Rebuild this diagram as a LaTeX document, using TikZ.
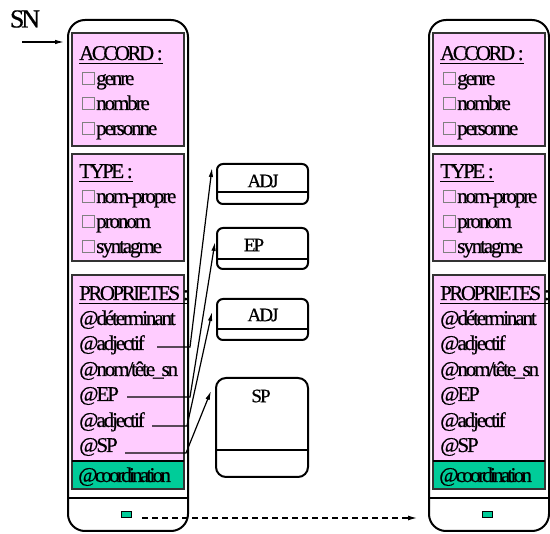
\documentclass[tikz,border=0pt]{standalone}
\usepackage{fontspec}
\setmainfont{Liberation Serif}[LetterSpace=-10,FakeBold=0.6]
\usetikzlibrary{arrows.meta}
\definecolor{pinkfill}{RGB}{255,204,255}
\definecolor{tealfill}{RGB}{0,204,153}
\tikzset{
  lbl/.style={anchor=base west, inner sep=0pt, font=\fontsize{21}{21}\selectfont},
  hdr/.style={lbl, font=\fontsize{21}{21}\selectfont\addfontfeature{LetterSpace=-12}},
  chk/.style={draw=black!50, line width=0.8pt},
  pinkbox/.style={draw=black!80, fill=pinkfill, line width=1.1pt},
  greenbox/.style={draw=black!80, fill=tealfill, line width=1.1pt},
  outerbox/.style={draw=black, line width=2pt, rounded corners=17pt},
  thickline/.style={line width=2.2pt},
  midbox/.style={draw=black, line width=2pt, rounded corners=6pt, inner sep=0pt, anchor=north west},
  midtxt/.style={inner sep=0pt, font=\fontsize{19}{19}\selectfont},
  conn/.style={line width=1.2pt, -{Latex[length=9pt,width=4.5pt]}},
  dashconn/.style={line width=1.2pt, dash pattern=on 6pt off 4pt, -{Latex[length=9pt,width=5pt]}},
}
\newcommand\chkitem[3]{%
  \draw[chk] (82,{#2-1}) rectangle (94,{#2-13});
  \node[lbl] (#1) at (96,#2) {#3};}
\newcommand\undl[1]{%
  \draw[line width=1.4pt] ([yshift=-3.5pt]#1.base west) -- ([yshift=-3.5pt]#1.base east);}
\newcommand\sncol[2]{%
\begin{scope}[xshift=#2pt]
  \draw[outerbox] (68,20) rectangle (188,531);
  \draw[thickline] (68,498) -- (188,498);
  \draw[pinkbox] (72,33) rectangle (184,146);
  \draw[pinkbox] (72,154) rectangle (184,261);
  \draw[pinkbox] (72,275) rectangle (184,461);
  \draw[greenbox] (72,461) rectangle (184,489);
  \draw[thickline] (72,461) -- (184,461);
  \node[hdr] (#1hA) at (79,60) {ACCORD :};
  \undl{#1hA}
  \chkitem{#1gen}{85}{genre}
  \chkitem{#1nom}{110}{nombre}
  \chkitem{#1per}{135}{personne}
  \node[hdr] (#1hT) at (79,178) {TYPE :};
  \undl{#1hT}
  \chkitem{#1npr}{203}{nom-propre}
  \chkitem{#1pro}{228}{pronom}
  \chkitem{#1syn}{253}{syntagme}
  \node[hdr] (#1hP) at (79,300) {PROPRIETES :};
  \undl{#1hP}
  \node[lbl] (#1det) at (79,325) {@déterminant};
  \node[lbl] (#1adjA) at (79,350) {@adjectif};
  \node[lbl] (#1tete) at (79,376) {@nom/tête\_sn};
  \node[lbl] (#1ep) at (79,401) {@EP};
  \node[lbl] (#1adjB) at (79,427) {@adjectif};
  \node[lbl] (#1sp) at (79,452) {@SP};
  \node[lbl, font=\fontsize{21}{21}\selectfont\addfontfeature{LetterSpace=-13}] (#1coord) at (78,482) {@coordination};
  \draw[draw=black, fill=tealfill, line width=1pt] (121,512) rectangle (131,518);
\end{scope}}

\begin{document}
\begin{tikzpicture}[x=1pt,y=-1pt]
  \useasboundingbox (0,0) rectangle (550,534);
  % columns
  \sncol{L}{0}
  \sncol{R}{361}
  % SN label and entry arrow
  \node[inner sep=0pt, font=\fontsize{26}{26}\selectfont\addfontfeature{LetterSpace=-12}] (sn) at (25,19) {SN};
  \coordinate (snA) at (22,42);
  \coordinate (snB) at (64,42);
  \draw[conn] (snA) -- (snB);
  % middle boxes
  \node[midbox, minimum width=91pt, minimum height=40pt] (bAdjA) at (216,163) {};
  \draw[thickline] ([yshift=-29pt]bAdjA.north west) -- ([yshift=-29pt]bAdjA.north east);
  \node[midtxt] (tAdjA) at (263,181) {ADJ};
  \node[midbox, minimum width=91pt, minimum height=41pt] (bEP) at (216,227) {};
  \draw[thickline] ([yshift=-32pt]bEP.north west) -- ([yshift=-32pt]bEP.north east);
  \node[midtxt] (tEP) at (254,245) {EP};
  \node[midbox, minimum width=91pt, minimum height=41pt] (bAdjB) at (216,298) {};
  \draw[thickline] ([yshift=-31pt]bAdjB.north west) -- ([yshift=-31pt]bAdjB.north east);
  \node[midtxt] (tAdjB) at (263,315) {ADJ};
  \node[midbox, rounded corners=10pt, minimum width=92pt, minimum height=99pt] (bSP) at (215,377) {};
  \draw[thickline] ([yshift=-73pt]bSP.north west) -- ([yshift=-73pt]bSP.north east);
  \node[midtxt] (tSP) at (261,396) {SP};
  % connectors
  \coordinate (cA0) at (157,347); \coordinate (cA1) at (190,347);
  \coordinate (cB0) at (127,397); \coordinate (cB1) at (190,397);
  \coordinate (cC0) at (152,426); \coordinate (cC1) at (187,426);
  \coordinate (cD0) at (125,453); \coordinate (cD1) at (186,453);
  \draw[conn] (cA0) -- (cA1) -- ([xshift=-4pt,yshift=-5pt]bAdjA.north west);
  \draw[conn] (cB0) -- (cB1) -- ([xshift=-1pt,yshift=-15pt]bEP.north west);
  \draw[conn] (cC0) -- (cC1) -- ([xshift=-4pt,yshift=-14pt]bAdjB.north west);
  \draw[conn] (cD0) -- (cD1) -- ([xshift=-4pt,yshift=-14pt]bSP.north west);
  % dashed link
  \coordinate (dA) at (142,518);
  \coordinate (dB) at (417,518);
  \draw[dashconn] (dA) -- (dB);
\end{tikzpicture}
\end{document}
